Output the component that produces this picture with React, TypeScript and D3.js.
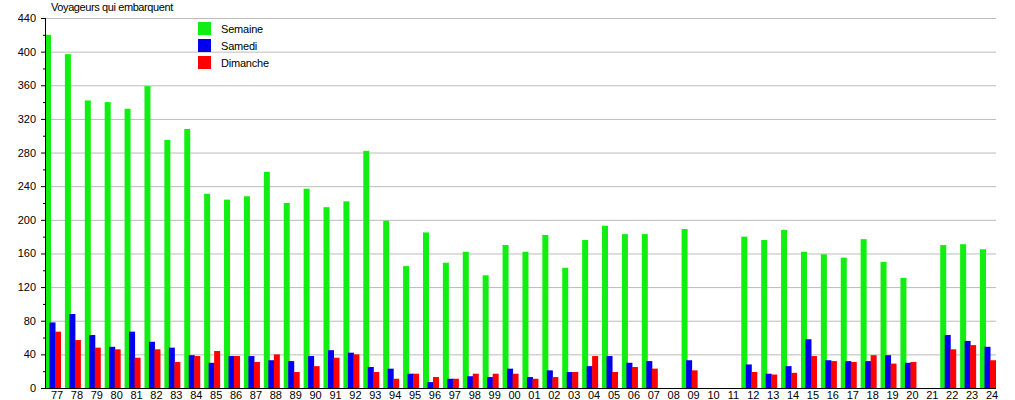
import { useEffect, useRef } from 'react';
import * as d3 from 'd3';

const years = [
  '77', '78', '79', '80', '81', '82', '83', '84', '85', '86', '87', '88', '89', '90', '91',
  '92', '93', '94', '95', '96', '97', '98', '99',
  '00', '01', '02', '03', '04', '05', '06', '07',
  '08', '09', '10', '11', '12', '13', '14', '15', '16', '17', '18', '19', '20', '21', '22', '23', '24',
];

const semaine = [
  420, 397, 342, 340, 332, 359, 295, 308, 231, 224, 228, 257, 220, 237, 215,
  222, 282, 199, 145, 185, 149, 162, 134,
  170, 162, 182, 143, 176, 193, 183, 183,
  null, 189, null, null, 180, 176, 188, 162, 159, 155, 177, 150, 131, null, 170, 171, 165,
];

const samedi = [
  78, 88, 63, 49, 67, 55, 48, 39, 30, 38, 38, 33, 32, 38, 45,
  42, 25, 23, 17, 7, 11, 14, 13,
  23, 13, 21, 19, 26, 38, 30, 32,
  null, 33, null, null, 28, 17, 26, 58, 33, 32, 32, 39, 30, null, 63, 56, 49,
];

const dimanche = [
  67, 57, 48, 46, 36, 46, 31, 38, 44, 38, 31, 40, 19, 26, 36,
  40, 19, 11, 17, 13, 11, 17, 17,
  17, 11, 13, 19, 38, 19, 25, 23,
  null, 21, null, null, 19, 16, 18, 38, 32, 31, 39, 29, 31, null, 46, 51, 33,
];

const yTicks = [0, 40, 80, 120, 160, 200, 240, 280, 320, 360, 400, 440];
const yMinorTicks = [20, 60, 100, 140, 180, 220, 260, 300, 340, 380, 420];

const seriesList = [
  { name: 'Semaine', values: semaine, color: '#11ee11', offset: 0 },
  { name: 'Samedi', values: samedi, color: '#0000ee', offset: 4.5 },
  { name: 'Dimanche', values: dimanche, color: '#ff0000', offset: 10 },
];

const FONT = '"Liberation Sans", Arial, Helvetica, sans-serif';

const App = () => {
  const svgRef = useRef<SVGSVGElement | null>(null);
  const width = 1015;
  const height = 400;

  useEffect(() => {
    const svg = d3.select(svgRef.current);
    svg.selectAll('*').remove();

    const left = 45;
    const right = 996;
    const top = 18;
    const bottom = 388;
    const step = 19.894;
    const barW = 6;

    const x = d3
      .scaleBand<string>()
      .domain(years)
      .range([left, left + step * years.length])
      .padding(0);

    const y = d3.scaleLinear().domain([0, 440]).range([bottom, top]);

    svg.append('rect').attr('width', width).attr('height', height).attr('fill', '#fff');

    // grid lines
    svg
      .append('g')
      .selectAll('line')
      .data(yTicks.filter(t => t > 0))
      .enter()
      .append('line')
      .attr('x1', left)
      .attr('x2', right)
      .attr('y1', d => y(d) + 0.5)
      .attr('y2', d => y(d) + 0.5)
      .attr('stroke', '#bbbbbb')
      .attr('stroke-width', 1);

    // bars
    seriesList.forEach(s => {
      svg
        .append('g')
        .selectAll('rect')
        .data(years.map((yr, i) => ({ yr, v: s.values[i] })).filter(d => d.v !== null))
        .enter()
        .append('rect')
        .attr('x', d => (x(d.yr) as number) + s.offset)
        .attr('y', d => y(d.v as number))
        .attr('width', barW)
        .attr('height', d => bottom - y(d.v as number))
        .attr('fill', s.color);
    });

    // y axis
    const yAxis = svg.append('g');
    yAxis
      .append('line')
      .attr('x1', left + 0.5)
      .attr('x2', left + 0.5)
      .attr('y1', top)
      .attr('y2', bottom)
      .attr('stroke', '#000');
    yAxis
      .selectAll('.major')
      .data(yTicks)
      .enter()
      .append('line')
      .attr('x1', left - 4)
      .attr('x2', left)
      .attr('y1', d => y(d) + 0.5)
      .attr('y2', d => y(d) + 0.5)
      .attr('stroke', '#000');
    yAxis
      .selectAll('.minor')
      .data(yMinorTicks)
      .enter()
      .append('line')
      .attr('x1', left - 2)
      .attr('x2', left)
      .attr('y1', d => y(d) + 0.5)
      .attr('y2', d => y(d) + 0.5)
      .attr('stroke', '#000');
    yAxis
      .selectAll('text')
      .data(yTicks)
      .enter()
      .append('text')
      .attr('x', 36)
      .attr('y', d => y(d) + 4)
      .attr('text-anchor', 'end')
      .attr('font-family', FONT)
      .attr('font-size', 11)
      .attr('fill', '#000')
      .text(d => d);

    // x axis
    svg
      .append('line')
      .attr('x1', 41)
      .attr('x2', right)
      .attr('y1', bottom + 0.5)
      .attr('y2', bottom + 0.5)
      .attr('stroke', '#000');
    svg
      .append('g')
      .selectAll('text')
      .data(years)
      .enter()
      .append('text')
      .attr('x', d => (x(d) as number) + 12)
      .attr('y', 399)
      .attr('text-anchor', 'middle')
      .attr('font-family', FONT)
      .attr('font-size', 11)
      .attr('fill', '#000')
      .text(d => d);

    // title
    svg
      .append('text')
      .attr('x', 51)
      .attr('y', 11)
      .attr('font-family', FONT)
      .attr('font-size', 11)
      .attr('letter-spacing', -0.4)
      .attr('fill', '#000')
      .text('Voyageurs qui embarquent');

    // legend
    const legend = svg
      .append('g')
      .selectAll('g')
      .data(seriesList)
      .enter()
      .append('g')
      .attr('transform', (d, i) => `translate(198,${22 + i * 17})`);
    legend.append('rect').attr('width', 13).attr('height', 13).attr('fill', d => d.color);
    legend
      .append('text')
      .attr('x', 23)
      .attr('y', 11)
      .attr('font-family', FONT)
      .attr('font-size', 11)
      .attr('letter-spacing', -0.2)
      .attr('fill', '#000')
      .text(d => d.name);
  }, []);

  return (
    <svg
      ref={svgRef}
      width={width}
      height={height}
      style={{ position: 'absolute', left: 0, top: 0, display: 'block' }}
    />
  );
};

export default App;
